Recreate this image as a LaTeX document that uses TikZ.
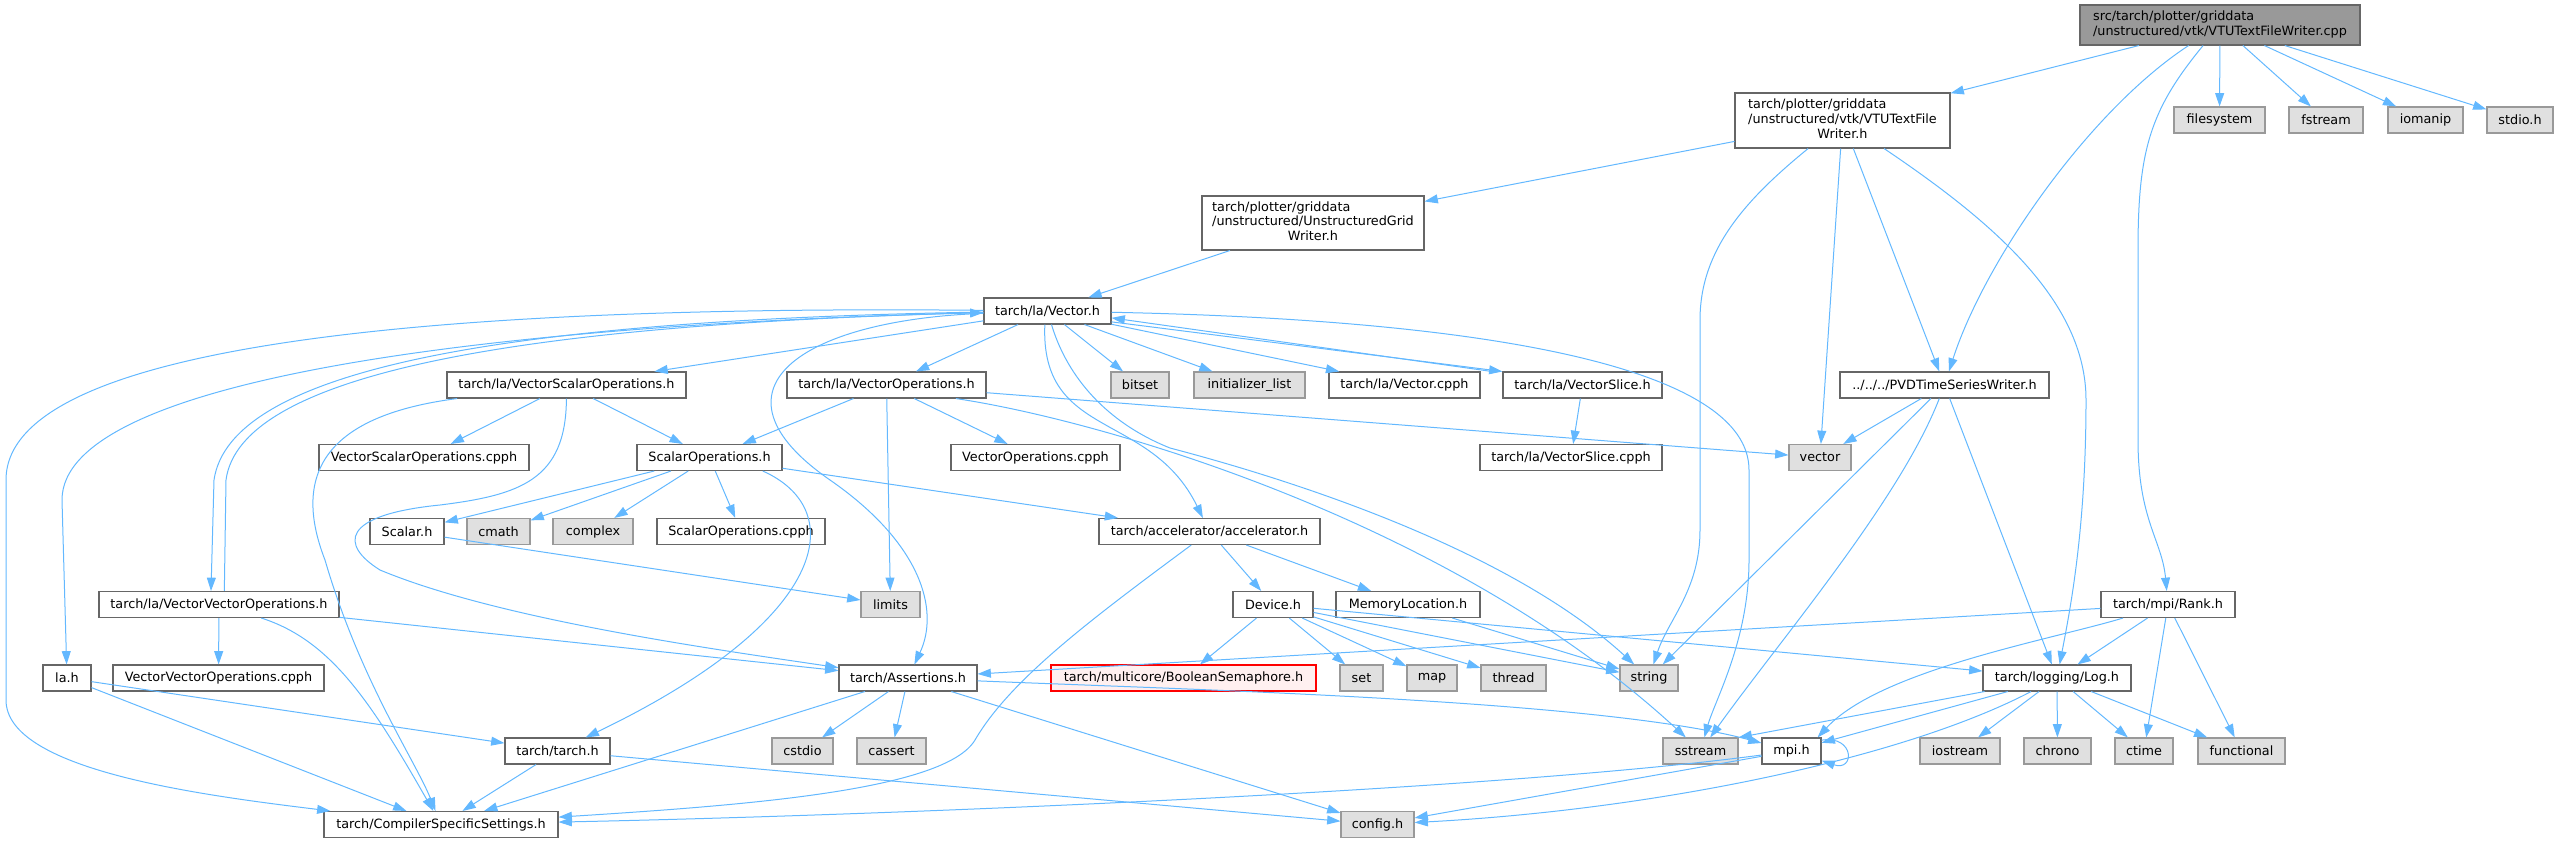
\documentclass[tikz,border=0pt]{standalone}
\usepackage{fontspec}
\newfontfamily\dxfont{DejaVu Sans}
\usetikzlibrary{arrows.meta}
\definecolor{depcol}{HTML}{63B8FF}
\definecolor{nodeedge}{HTML}{666666}
\definecolor{sysfill}{HTML}{E0E0E0}
\definecolor{sysedge}{HTML}{999999}
\definecolor{rootfill}{HTML}{999999}
\definecolor{badfill}{HTML}{FFF0F0}

\begin{document}
\begin{tikzpicture}[x=0.75pt,y=-0.75pt,
  file/.style={draw=nodeedge,fill=white,line width=0.8pt,inner xsep=1pt,inner ysep=0pt,minimum height=19.5pt,font=\dxfont\fontsize{9.6}{11.2}\selectfont},
  sysfile/.style={file,draw=sysedge,fill=sysfill},
  bw/.style={minimum width=#1*0.75pt},
  dep/.style={draw=depcol,line width=0.75pt,-{Triangle[length=10pt,width=6.7pt]}}]
\useasboundingbox (0,0) rectangle (2559,843);
% files
\node[file,fill=rootfill,bw=280,minimum height=30pt] (root) at (2220,25) {\begin{tabular}{@{}l@{}}src/tarch/plotter/griddata\\/unstructured/vtk/VTUTextFileWriter.cpp\end{tabular}};
\node[file,bw=215,minimum height=41.25pt] (vtuh) at (1842.5,120.5) {\begin{tabular}{@{}l@{}}tarch/plotter/griddata\\/unstructured/vtk/VTUTextFile\\\multicolumn{1}{@{}c@{}}{Writer.h}\end{tabular}};
\node[sysfile,bw=91] (filesystem) at (2219.5,120) {filesystem};
\node[sysfile,bw=74] (fstream) at (2326,120) {fstream};
\node[sysfile,bw=75] (iomanip) at (2425.5,120) {iomanip};
\node[sysfile,bw=66] (stdioh) at (2520,120) {stdio.h};
\node[file,bw=222,minimum height=40.5pt] (ugw) at (1313,223) {\begin{tabular}{@{}l@{}}tarch/plotter/griddata\\/unstructured/UnstructuredGrid\\\multicolumn{1}{@{}c@{}}{Writer.h}\end{tabular}};
\node[file,bw=127] (vech) at (1047.5,311) {tarch/la/Vector.h};
\node[file,bw=239] (vso) at (566.5,385) {tarch/la/VectorScalarOperations.h};
\node[file,bw=199] (vops) at (886.5,385) {tarch/la/VectorOperations.h};
\node[sysfile,bw=58] (bitset) at (1140,385) {bitset};
\node[sysfile,bw=111] (initlist) at (1249.5,385) {initializer\_list};
\node[file,bw=151] (veccpph) at (1404.5,385) {tarch/la/Vector.cpph};
\node[file,bw=159] (vslice) at (1582.5,385) {tarch/la/VectorSlice.h};
\node[file,bw=209] (pvd) at (1944.5,385) {../../../PVDTimeSeriesWriter.h};
\node[file,bw=210] (vsocpph) at (424,457.5) {VectorScalarOperations.cpph};
\node[file,bw=145] (sops) at (709.5,457.5) {ScalarOperations.h};
\node[file,bw=169] (vopscpph) at (1035.5,457.5) {VectorOperations.cpph};
\node[file,bw=182] (vslicecpph) at (1571,457.5) {tarch/la/VectorSlice.cpph};
\node[sysfile,bw=62] (vector) at (1820,457.5) {vector};
\node[file,bw=74] (scalarh) at (407,531.5) {Scalar.h};
\node[sysfile,bw=63] (cmath) at (498.5,531.5) {cmath};
\node[sysfile,bw=80] (complex) at (593,531.5) {complex};
\node[file,bw=168] (sopscpph) at (741,531.5) {ScalarOperations.cpph};
\node[file,bw=221] (accel) at (1209.5,531.5) {tarch/accelerator/accelerator.h};
\node[file,bw=240] (vvo) at (219,604.5) {tarch/la/VectorVectorOperations.h};
\node[sysfile,bw=59] (limits) at (890.5,604.5) {limits};
\node[file,bw=80] (device) at (1273,604.5) {Device.h};
\node[file,bw=144] (memloc) at (1408,604.5) {MemoryLocation.h};
\node[file,bw=134] (rank) at (2168,604.5) {tarch/mpi/Rank.h};
\node[file,bw=48] (lah) at (67,678) {la.h};
\node[file,bw=211] (vvocpph) at (218.5,678) {VectorVectorOperations.cpph};
\node[file,bw=138] (assertions) at (908,678) {tarch/Assertions.h};
\node[file,draw=red,fill=badfill,bw=265] (boolsem) at (1183.5,678) {tarch/multicore/BooleanSemaphore.h};
\node[sysfile,bw=43] (seth) at (1361.5,678) {set};
\node[sysfile,bw=50] (maph) at (1432,678) {map};
\node[sysfile,bw=65] (thread) at (1513.5,678) {thread};
\node[sysfile,bw=58] (stringh) at (1649,678) {string};
\node[file,bw=148] (logh) at (2057,678) {tarch/logging/Log.h};
\node[file,bw=105] (tarchh) at (557.5,751) {tarch/tarch.h};
\node[sysfile,bw=61] (cstdio) at (802.5,751) {cstdio};
\node[sysfile,bw=69] (cassert) at (891.5,751) {cassert};
\node[sysfile,bw=75] (sstream) at (1700.5,751) {sstream};
\node[file,bw=59] (mpi) at (1791.5,751) {mpi.h};
\node[sysfile,bw=80] (iostream) at (1960,751) {iostream};
\node[sysfile,bw=67] (chrono) at (2057.5,751) {chrono};
\node[sysfile,bw=58] (ctime) at (2144,751) {ctime};
\node[sysfile,bw=87] (functional) at (2241.5,751) {functional};
\node[file,bw=234] (css) at (441,824.5) {tarch/CompilerSpecificSettings.h};
\node[sysfile,bw=73] (config) at (1377.5,824.5) {config.h};
% includes
\draw[dep] (root) -- (vtuh);
\draw[dep] (root) .. controls (2090,110) and (1985,260) .. (pvd);
\draw[dep] (root) .. controls (2150,110) and (2138,150) .. (2138,250) -- (2138,440) .. controls (2138,520) and (2162,540) .. (rank);
\draw[dep] (root) -- (filesystem);
\draw[dep] (root) -- (fstream);
\draw[dep] (root) -- (iomanip);
\draw[dep] (root) -- (stdioh);
\draw[dep] (vtuh) -- (ugw);
\draw[dep] (vtuh) .. controls (1745,200) and (1700,250) .. (1700,320) -- (1700,530) .. controls (1700,590) and (1668,620) .. (stringh);
\draw[dep] (vtuh) -- (vector);
\draw[dep] (vtuh) -- (pvd);
\draw[dep] (vtuh) .. controls (1990,220) and (2086,300) .. (2086,400) .. controls (2086,530) and (2070,610) .. (logh);
\draw[dep] (ugw) -- (vech);
\draw[dep] (pvd) -- (vector);
\draw[dep] (pvd) -- (stringh);
\draw[dep] (pvd) .. controls (1900,500) and (1780,640) .. (sstream);
\draw[dep] (pvd) -- (logh);
\draw[dep] (vech) -- (vso);
\draw[dep] (vech) -- (vops);
\draw[dep] (vech) -- (bitset);
\draw[dep] (vech) -- (initlist);
\draw[dep] (vech) -- (veccpph);
\draw[dep] ([yshift=2pt]vech.south east) -- (vslice.north west);
\draw[dep] ([xshift=-8pt]vslice.north west) -- ([yshift=5pt]vech.south east);
\draw[dep] ([xshift=3pt]vech.south) .. controls (1065,370) and (1100,420) .. (1170,448) .. controls (1330,490) and (1520,560) .. (stringh);
\draw[dep] ([xshift=-2pt]vech.south) .. controls (1040,440) and (1150,410) .. (accel);
\draw[dep] (vech) .. controls (1500,320) and (1749,370) .. (1749,470) -- (1749,560) .. controls (1749,640) and (1715,700) .. (sstream);
\draw[dep] (vech) .. controls (800,320) and (700,390) .. (830,480) .. controls (921,543) and (940,610) .. (assertions);
\draw[dep] (vech) .. controls (480,325) and (62,380) .. (62,500) -- (lah);
\draw[dep] (vech) .. controls (460,305) and (6,340) .. (6,480) -- (6,700) .. controls (6,770) and (200,795) .. (css);
\draw[dep] (vech) .. controls (500,320) and (230,370) .. (214,480) -- ([xshift=-6pt]vvo.north);
\draw[dep] ([xshift=4pt]vvo.north) -- (226,480) .. controls (240,375) and (510,325) .. (vech);
\draw[dep] (vso) -- (vsocpph);
\draw[dep] (vso) -- (sops);
\draw[dep] (vso) .. controls (566,480) and (520,495) .. (440,505) .. controls (340,515) and (340,545) .. (380,570) .. controls (500,620) and (720,650) .. (assertions);
\draw[dep] ([xshift=-82pt]vso.south) .. controls (330,415) and (290,470) .. (325,560) .. controls (360,680) and (415,760) .. (css);
\draw[dep] (sops) -- (scalarh);
\draw[dep] (sops) -- (cmath);
\draw[dep] (sops) -- (complex);
\draw[dep] (sops) -- (sopscpph);
\draw[dep] (sops) -- (accel);
\draw[dep] ([xshift=40pt]sops.south) .. controls (850,510) and (830,620) .. (tarchh);
\draw[dep] (vops) -- (sops);
\draw[dep] (vops) -- (vopscpph);
\draw[dep] (vops) -- (limits);
\draw[dep] (vops) -- (vector);
\draw[dep] ([xshift=52pt]vops.south) .. controls (1100,420) and (1450,520) .. (sstream);
\draw[dep] (accel) -- (device);
\draw[dep] (accel) -- (memloc);
\draw[dep] (accel) .. controls (1090,620) and (1010,680) .. (975,740) .. controls (945,790) and (750,805) .. (css);
\draw[dep] (device) -- (boolsem);
\draw[dep] (device) -- (seth);
\draw[dep] (device) -- (maph);
\draw[dep] (device) -- (thread);
\draw[dep] (device) -- (stringh);
\draw[dep] (device) -- (logh);
\draw[dep] (memloc) -- (stringh);
\draw[dep] (rank) -- (assertions);
\draw[dep] (rank) .. controls (2050,640) and (1880,670) .. ([xshift=-3pt]mpi.north east);
\draw[dep] (rank) -- (logh);
\draw[dep] (rank) -- (ctime);
\draw[dep] (rank) -- (functional);
\draw[dep] (logh) -- (sstream.north east);
\draw[dep] (logh) -- (mpi);
\draw[dep] (logh) .. controls (1900,760) and (1650,810) .. (config);
\draw[dep] (logh) -- (iostream);
\draw[dep] (logh) -- (chrono);
\draw[dep] (logh) -- (ctime);
\draw[dep] (logh) -- (functional);
\draw[dep] (assertions) -- (css);
\draw[dep] (assertions) -- (cstdio);
\draw[dep] (assertions) -- (cassert);
\draw[dep] (assertions) -- (config);
\draw[dep] (assertions) .. controls (1200,690) and (1600,700) .. (mpi);
\draw[dep] (tarchh) -- (css);
\draw[dep] (tarchh) -- (config);
\draw[dep] (lah) -- (tarchh);
\draw[dep] (lah) -- (css);
\draw[dep] (vvo) -- (vvocpph);
\draw[dep] (vvo) -- (assertions);
\draw[dep] (vvo) .. controls (330,640) and (370,700) .. (css);
\draw[dep] (scalarh) -- (limits);
\draw[dep] (vslice) -- (vslicecpph);
\draw[dep] ([yshift=-2pt]mpi.north east) .. controls (1855,735) and (1855,772) .. ([yshift=3pt]mpi.south east);
\draw[dep] (mpi) -- (config);
\draw[dep] (mpi) .. controls (1500,790) and (900,815) .. (css);
\end{tikzpicture}
\end{document}
